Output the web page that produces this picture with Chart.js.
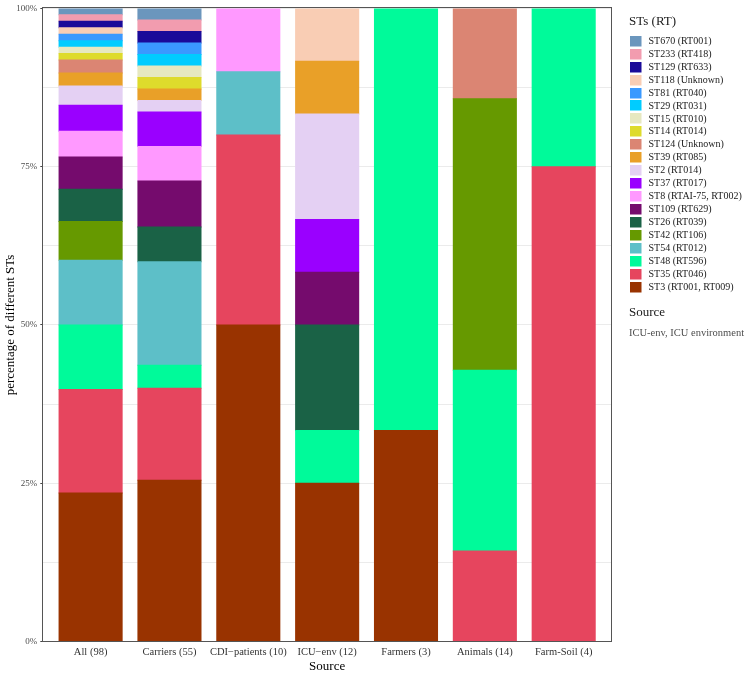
<!DOCTYPE html>
<html><head><meta charset="utf-8">
<script src="https://cdn.jsdelivr.net/npm/chart.js@4.4.1/dist/chart.umd.min.js"></script>
<style>html,body{margin:0;padding:0;background:#fff}#wrap{width:750px;height:674px;position:relative}</style>
</head><body><div id="wrap"><canvas id="c" width="750" height="674"></canvas></div>
<script>
// Categories (x axis) and sample totals
const categories = ["All (98)", "Carriers (55)", "CDI\u2212patients (10)", "ICU\u2212env (12)", "Farmers (3)", "Animals (14)", "Farm-Soil (4)"];
const totals = [98, 55, 10, 12, 3, 14, 4];

// Isolate counts per ST, one value per category (stack order: bottom -> top)
const ST3   = [23, 14, 5, 3, 1, 0, 0];
const ST35  = [16, 8, 3, 0, 0, 2, 3];
const ST48  = [10, 2, 0, 1, 2, 4, 1];
const ST54  = [10, 9, 1, 0, 0, 0, 0];
const ST42  = [6, 0, 0, 0, 0, 6, 0];
const ST26  = [5, 3, 0, 2, 0, 0, 0];
const ST109 = [5, 4, 0, 1, 0, 0, 0];
const ST8   = [4, 3, 1, 0, 0, 0, 0];
const ST37  = [4, 3, 0, 1, 0, 0, 0];
const ST2   = [3, 1, 0, 2, 0, 0, 0];
const ST39  = [2, 1, 0, 1, 0, 0, 0];
const ST124 = [2, 0, 0, 0, 0, 2, 0];
const ST14  = [1, 1, 0, 0, 0, 0, 0];
const ST15  = [1, 1, 0, 0, 0, 0, 0];
const ST29  = [1, 1, 0, 0, 0, 0, 0];
const ST81  = [1, 1, 0, 0, 0, 0, 0];
const ST118 = [1, 0, 0, 1, 0, 0, 0];
const ST129 = [1, 1, 0, 0, 0, 0, 0];
const ST233 = [1, 1, 0, 0, 0, 0, 0];
const ST670 = [1, 1, 0, 0, 0, 0, 0];

const seriesNames = ["ST3 (RT001, RT009)", "ST35 (RT046)", "ST48 (RT596)", "ST54 (RT012)", "ST42 (RT106)", "ST26 (RT039)", "ST109 (RT629)", "ST8 (RTAI-75, RT002)", "ST37 (RT017)", "ST2 (RT014)", "ST39 (RT085)", "ST124 (Unknown)", "ST14 (RT014)", "ST15 (RT010)", "ST29 (RT031)", "ST81 (RT040)", "ST118 (Unknown)", "ST129 (RT633)", "ST233 (RT418)", "ST670 (RT001)"];
const seriesCounts = [ST3, ST35, ST48, ST54, ST42, ST26, ST109, ST8, ST37, ST2, ST39, ST124, ST14, ST15, ST29, ST81, ST118, ST129, ST233, ST670];
const seriesColors = ["#993300", "#E6455E", "#00FA9A", "#5DBFC8", "#669900", "#1A6246", "#750B6D", "#FF99FF", "#9A00FF", "#E4D0F3", "#E9A028", "#DB8573", "#DEDB2C", "#E6E8C0", "#00CCFF", "#3A99FF", "#F9CDB4", "#1A0A99", "#F29CAF", "#6B96BD"];

const yTickValues = [0, 12.5, 25, 37.5, 50, 62.5, 75, 87.5, 100];

const FONT = "'Liberation Serif', 'Times New Roman', serif";

const datasets = seriesNames.map((name, s) => ({
  label: name,
  data: seriesCounts[s].map((c, i) => ({ x: i, y: c === 0 ? null : c / totals[i] * 100 })),
  backgroundColor: seriesColors[s],
  borderWidth: 0,
  inflateAmount: 0.5
}));

const frame = {
  id: 'frame',
  afterDatasetsDraw(chart) {
    const a = chart.chartArea, ctx = chart.ctx;
    ctx.save();
    ctx.strokeStyle = '#555';
    ctx.lineWidth = 1;
    ctx.strokeRect(Math.round(a.left) - 0.5, Math.round(a.top) - 0.5, Math.round(a.right - a.left) + 1, Math.round(a.bottom - a.top) + 1);
    ctx.restore();
  }
};

const sideLegend = {
  id: 'sideLegend',
  afterDraw(chart) {
    const ctx = chart.ctx;
    ctx.save();
    ctx.textBaseline = 'middle';
    ctx.textAlign = 'left';
    ctx.fillStyle = '#1a1a1a';
    ctx.font = '13px ' + FONT;
    ctx.fillText('STs (RT)', 629, 22);
    const ds = chart.data.datasets.slice().reverse();
    ds.forEach((d, i) => {
      const yc = 40.7 + i * 12.95;
      ctx.fillStyle = d.backgroundColor;
      ctx.fillRect(630, Math.round(yc - 5), 11.5, 10.5);
      ctx.fillStyle = '#1a1a1a';
      ctx.font = '10px ' + FONT;
      ctx.fillText(d.label, 648.5, yc + 0.5);
    });
    ctx.fillStyle = '#1a1a1a';
    ctx.font = '13px ' + FONT;
    ctx.fillText('Source', 629, 313);
    ctx.fillStyle = '#4d4d4d';
    ctx.font = '10.5px ' + FONT;
    ctx.fillText('ICU-env, ICU environment', 629, 333);
    ctx.restore();
  }
};

new Chart(document.getElementById('c'), {
  type: 'bar',
  data: { datasets },
  plugins: [frame, sideLegend],
  options: {
    responsive: false,
    devicePixelRatio: 1,
    animation: false,
    layout: { padding: { top: 6.5, right: 139, left: 0, bottom: 0 } },
    plugins: { legend: { display: false }, tooltip: { enabled: false } },
    datasets: { bar: { barPercentage: 0.8, categoryPercentage: 1 } },
    scales: {
      x: {
        type: 'linear', min: -0.6, max: 6.6, stacked: true, offset: false,
        afterBuildTicks: s => { s.ticks = categories.map((_, i) => ({ value: i })); },
        afterFit: s => { s.height = 32.5; },
        grid: { display: false, drawTicks: false },
        border: { display: false },
        ticks: {
          callback: v => categories[v],
          color: '#333', font: { family: FONT, size: 10.5 }, padding: 4,
          autoSkip: false, maxRotation: 0
        },
        title: { display: true, text: 'Source', color: '#000', font: { family: FONT, size: 13 }, padding: { top: 0, bottom: 0 } }
      },
      y: {
        min: 0, max: 100, stacked: true,
        afterBuildTicks: s => { s.ticks = yTickValues.map(v => ({ value: v })); },
        afterFit: s => { s.width = 43.3; },
        grid: {
          color: '#ebebeb', lineWidth: 1, tickLength: 3,
          tickColor: c => (c.tick && c.tick.value % 25 === 0) ? '#444' : 'rgba(0,0,0,0)'
        },
        border: { display: false },
        ticks: {
          callback: v => (v % 25 === 0 ? v + '%' : ''),
          color: '#4d4d4d', font: { family: FONT, size: 9 }, padding: 3, autoSkip: false
        },
        title: { display: true, text: 'percentage of different STs', color: '#000', font: { family: FONT, size: 13 }, padding: { top: 3, bottom: 0 } }
      }
    }
  }
});
</script></body></html>
